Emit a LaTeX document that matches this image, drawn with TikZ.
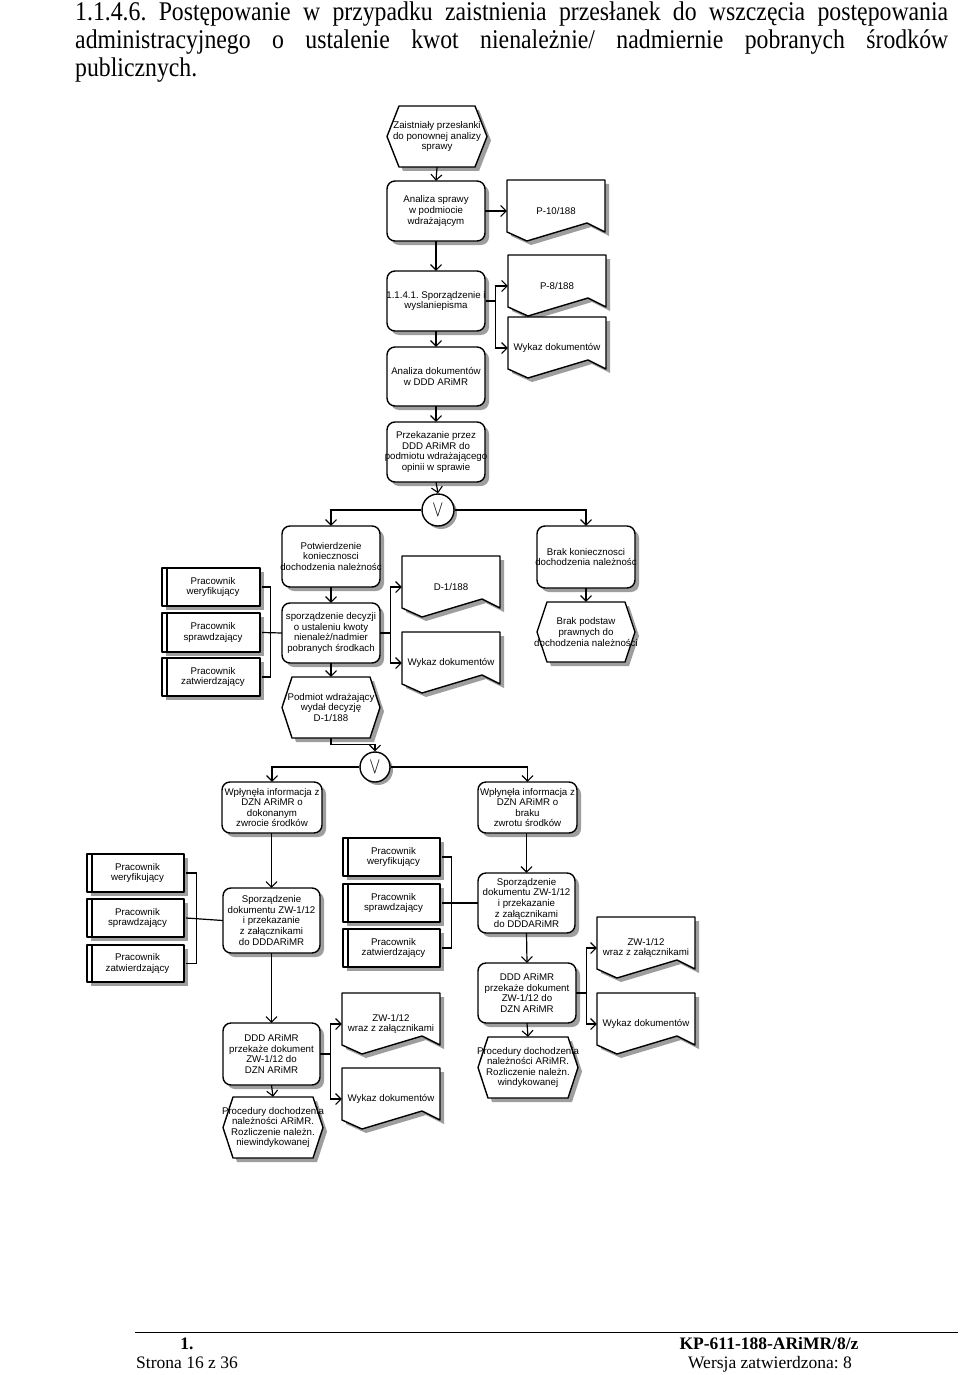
\documentclass[tikz,border=0pt]{standalone}
\usepackage{fontspec}
\usepackage{graphicx}
\setmainfont{Liberation Serif}
\newfontfamily\arialf{Liberation Sans}
\newfontfamily\titlef[FakeStretch=0.88]{Liberation Serif}
\usetikzlibrary{arrows.meta,calc}
\frenchspacing

\tikzset{
  shp/.style={draw=black, line width=1.4pt, fill=white, line join=round},
  shd/.style={fill=black!38, draw=none},
  txt/.style={font=\arialf\fontsize{9.7}{10.6}\selectfont, align=center, inner sep=0pt},
  conn/.style={draw=black, line width=1.2pt},
  arr/.style={conn, -{Straight Barb[length=5.5pt,width=11pt,line width=1.1pt]}},
  foot/.style={font=\fontsize{17.5}{20}\selectfont, inner sep=0pt, anchor=base},
  ttl/.style={font=\titlef\fontsize{27}{28}\selectfont, inner sep=0pt, anchor=base west},
}

% rounded process box: name, xl, yt, xr, yb, text
\newcommand\rbox[6]{%
  \fill[shd, rounded corners=8pt, shift={(4,4)}] (#2,#3) rectangle (#4,#5);
  \draw[shp, rounded corners=8pt] (#2,#3) rectangle (#4,#5);
  \node[txt, minimum width={#4-#2}, minimum height={#5-#3}] (#1) at ({(#2+#4)/2},{(#3+#5)/2}) {#6};
}
% hexagon event: name, xl, yt, xr, yb, inset, text
\newcommand\hexa[7]{%
  \fill[shd, shift={(4,4)}] (#2,{(#3+#5)/2}) -- ({#2+#6},#3) -- ({#4-#6},#3) -- (#4,{(#3+#5)/2}) -- ({#4-#6},#5) -- ({#2+#6},#5) -- cycle;
  \draw[shp] (#2,{(#3+#5)/2}) -- ({#2+#6},#3) -- ({#4-#6},#3) -- (#4,{(#3+#5)/2}) -- ({#4-#6},#5) -- ({#2+#6},#5) -- cycle;
  \node[txt, minimum width={#4-#2}, minimum height={#5-#3}] (#1) at ({(#2+#4)/2},{(#3+#5)/2}) {#7};
}
% document: name, xl, yt, text
\newcommand\docu[4]{%
  \fill[shd, shift={(4,4)}] (#2,#3) -- ({#2+98},#3) -- ({#2+98},{#3+52}) -- ({#2+80},{#3+43}) -- ({#2+20},{#3+61}) -- (#2,{#3+52}) -- cycle;
  \draw[shp] (#2,#3) -- ({#2+98},#3) -- ({#2+98},{#3+52}) -- ({#2+80},{#3+43}) -- ({#2+20},{#3+61}) -- (#2,{#3+52}) -- cycle;
  \node[txt, minimum width=98, minimum height=62] (#1) at ({#2+49},{#3+31}) {#4};
}
% organisational unit: name, xl, yt, xr, yb, text
\newcommand\worker[6]{%
  \fill[shd, shift={(4,4)}] (#2,#3) rectangle (#4,#5);
  \draw[shp] (#2,#3) rectangle (#4,#5);
  \draw[line width=1.4pt] ({#2+5},#3) -- ({#2+5},#5);
  \node[txt, minimum width={#4-#2}, minimum height={#5-#3}] (#1) at ({(#2+#4)/2+2},{(#3+#5)/2}) {#6};
}
% OR connector: name, x, y, r
\newcommand\orgate[4]{%
  \fill[shd] ({#2+3},{#3+3}) circle[radius=#4];
  \node[circle, draw, line width=1.4pt, fill=white, minimum size={2*#4}, inner sep=0pt] (#1) at (#2,#3) {\scalebox{1.15}[1.6]{\Large$\vee$}};
}

\begin{document}
\begin{tikzpicture}[x=1pt,y=-1pt]
\useasboundingbox (0,0) rectangle (960,1375);
\fill[white] (0,0) rectangle (960,1375);

% title
\node[ttl] (title1) at (75,21) {\makebox[873pt][s]{1.1.4.6. Postępowanie w przypadku zaistnienia przesłanek do wszczęcia postępowania}};
\node[ttl] (title2) at (75,49) {\makebox[873pt][s]{administracyjnego o ustalenie kwot nienależnie/ nadmiernie pobranych środków}};
\node[ttl] (title3) at (75,77) {publicznych.};

% top chain
\hexa{h1}{387}{106}{487}{167}{12}{Zaistniały przesłanki\\do ponownej analizy\\sprawy}
\rbox{bA}{387}{181}{485}{241}{Analiza sprawy\\w podmiocie\\wdrażającym}
\docu{p10}{507}{180}{P-10/188}
\rbox{bB}{387}{271}{485}{331}{1.1.4.1. Sporządzenie i\\wyslaniepisma}
\docu{p8}{508}{255}{P-8/188}
\docu{wk1}{508}{317}{Wykaz dokumentów}
\rbox{bC}{387}{347}{485}{406}{Analiza dokumentów\\w DDD ARiMR}
\rbox{bD}{387}{422}{485}{482}{Przekazanie przez\\DDD ARiMR do\\podmiotu wdrażającego\\opinii w sprawie}
\orgate{or1}{438}{510}{16}

% middle section
\rbox{bE}{282}{526}{380}{587}{Potwierdzenie\\koniecznosci\\dochodzenia należnośc}
\worker{w1a}{162}{568}{260}{606}{Pracownik\\weryfikujący}
\worker{w1b}{162}{613}{260}{652}{Pracownik\\sprawdzający}
\worker{w1c}{162}{658}{260}{696}{Pracownik\\zatwierdzający}
\rbox{bF}{282}{603}{380}{663}{sporządzenie decyzji\\o ustaleniu kwoty\\nienależ/nadmier\\pobranych środkach}
\hexa{hG}{282}{677}{380}{738}{10}{Podmiot wdrażający\\wydał decyzję\\D-1/188}
\docu{d1}{402}{556}{D-1/188}
\docu{wk2}{402}{632}{Wykaz dokumentów}
\rbox{bH}{537}{526}{635}{588}{Brak koniecznosci\\dochodzenia należnośc}
\hexa{hI}{537}{602}{635}{662}{10}{Brak podstaw\\prawnych do\\dochodzenia należności}
\orgate{or2}{375}{767}{15}

% lower section
\rbox{bJ}{222}{782}{322}{833}{Wpłynęła informacja z\\DZN ARiMR o\\dokonanym\\zwrocie środków}
\rbox{bK}{478}{782}{577}{833}{Wpłynęła informacja z\\DZN ARiMR o\\braku\\zwrotu środków}
\worker{w2a}{87}{854}{184}{892}{Pracownik\\weryfikujący}
\worker{w2b}{87}{899}{184}{937}{Pracownik\\sprawdzający}
\worker{w2c}{87}{945}{184}{982}{Pracownik\\zatwierdzający}
\rbox{bL}{223}{888}{320}{953}{Sporządzenie\\dokumentu ZW-1/12\\i przekazanie\\z załącznikami\\do DDDARiMR}
\rbox{bM}{223}{1023}{320}{1085}{DDD ARiMR\\przekaże dokument\\ZW-1/12 do\\DZN ARiMR}
\hexa{hN}{223}{1097}{323}{1158}{10}{Procedury dochodzenia\\należności ARiMR.\\Rozliczenie należn.\\niewindykowanej}
\docu{zw1}{342}{993}{ZW-1/12\\wraz z załącznikami}
\docu{wk3}{342}{1068}{Wykaz dokumentów}
\worker{w3a}{343}{838}{440}{876}{Pracownik\\weryfikujący}
\worker{w3b}{343}{884}{440}{922}{Pracownik\\sprawdzający}
\worker{w3c}{343}{929}{440}{967}{Pracownik\\zatwierdzający}
\rbox{bO}{478}{873}{575}{933}{Sporządzenie\\dokumentu ZW-1/12\\i przekazanie\\z załącznikami\\do DDDARiMR}
\rbox{bQ}{478}{963}{576}{1023}{DDD ARiMR\\przekaże dokument\\ZW-1/12 do\\DZN ARiMR}
\hexa{hR}{478}{1037}{578}{1098}{10}{Procedury dochodzenia\\należności ARiMR.\\Rozliczenie należn.\\windykowanej}
\docu{zw2}{597}{917}{ZW-1/12\\wraz z załącznikami}
\docu{wk4}{597}{993}{Wykaz dokumentów}

% connectors
\draw[arr] (h1.south) -- (bA.north);
\draw[arr] (bA.east) -- (p10.west);
\draw[arr] (bA.south) -- (bB.north);
\draw[arr] (bB.east) -- ++(10,0) |- (p8.west);
\draw[arr] (bB.east) -- ++(10,0) |- (wk1.west);
\draw[arr] (bB.south) -- (bC.north);
\draw[arr] (bC.south) -- (bD.north);
\draw[arr] (bD.south) -- (or1.north);
\draw[arr] (or1.west) -| (bE.north);
\draw[arr] (or1.east) -| (bH.north);
\draw[conn] (w1a.east) -- ++(8,0) |- (w1c.east);
\draw[conn] (w1b.east) -- (bF.west);
\draw[arr] (bE.south) -- (bF.north);
\draw[arr] (bF.south) -- (hG.north);
\draw[arr] (bF.east) -- ++(10,0) |- (d1.west);
\draw[arr] (bF.east) -- ++(10,0) |- (wk2.west);
\draw[arr] (bH.south) -- (hI.north);
\draw[arr] (hG.south) -- ++(0,6) -| (or2.north);
\draw[arr] (or2.west) -| (bJ.north);
\draw[arr] (or2.east) -| (bK.north);
\draw[arr] (bL.north |- bJ.south) -- (bL.north);
\draw[conn] (w2a.east) -- ++(10,0) |- (w2c.east);
\draw[conn] (w2b.east) -- (bL.west);
\draw[arr] (bL.south) -- (bM.north);
\draw[arr] (bM.south) -- (hN.north);
\draw[arr] (bM.east) -- ++(10,0) |- (zw1.west);
\draw[arr] (bM.east) -- ++(10,0) |- (wk3.west);
\draw[arr] (bO.north |- bK.south) -- (bO.north);
\draw[conn] (w3a.east) -- ++(9,0) |- (w3c.east);
\draw[conn] (w3b.east) -- (bO.west);
\draw[arr] (bO.south) -- (bQ.north);
\draw[arr] (bQ.south) -- (hR.north);
\draw[arr] (bQ.east) -- ++(10,0) |- (zw2.west);
\draw[arr] (bQ.east) -- ++(10,0) |- (wk4.west);

% footer
\draw[line width=0.7pt] (135,1332) -- (958,1332);
\node[foot] (f1) at (187,1349) {\bfseries 1.};
\node[foot] (f2) at (187,1368) {Strona 16 z 36};
\node[foot] (f3) at (769,1349) {\bfseries KP-611-188-ARiMR/8/z};
\node[foot] (f4) at (770,1368) {Wersja zatwierdzona: 8};
\end{tikzpicture}
\end{document}
